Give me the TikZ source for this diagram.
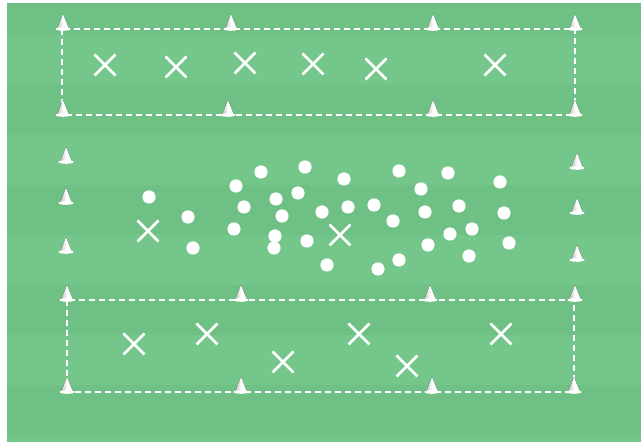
\documentclass[tikz,border=0pt]{standalone}
\begin{document}
\begin{tikzpicture}[x=1pt,y=-1pt,
  cone/.pic={
    \fill[left color=black!25, right color=white, middle color=white] (-6,0) -- (0,-15) -- (6,0) -- cycle;
    \fill[white] (0,0) ellipse (7.5 and 1.8);
  },
  player/.pic={
    \draw[white, line width=2.6pt] (-10.5,-10.5) -- (10.5,10.5) (-10.5,10.5) -- (10.5,-10.5);
  },
  ball/.pic={\fill[white] (0,0) circle (6.6);},
  zone/.style={white, line width=1.7pt, dash pattern=on 6pt off 4pt}
]
\definecolor{pitchA}{RGB}{116,198,138}
\definecolor{pitchB}{RGB}{111,192,132}
\useasboundingbox (0,0) rectangle (641,443);
\fill[white] (0,0) rectangle (641,443);
\fill[pitchA] (7,3) rectangle (641,442);
\foreach \y in {-15,85,185,285,385}{
  \fill[pitchB] (7,{max(\y,3)}) rectangle (641,{min(\y+50,442)});
}
% zones
\draw[zone] (62,29) rectangle (575,115);
\draw[zone] (67,300) rectangle (574,392);
% cones top zone
\foreach \x in {63,231,433,575} \pic at (\x,29) {cone};
\foreach \x in {63,228,433,575} \pic at (\x,115) {cone};
% cones bottom zone
\foreach \x in {67,241,430,575} \pic at (\x,300) {cone};
\foreach \x in {67,241,432,574} \pic at (\x,392) {cone};
% middle cones
\foreach \y in {162,203,252} \pic at (66,\y) {cone};
\foreach \y in {168,213,260} \pic at (577,\y) {cone};
% players
\foreach \p in {(105,65),(176,67),(245,63),(313,64),(376,69),(495,65),
                (148,231),(340,235),
                (134,344),(207,334),(283,362),(359,334),(407,366),(501,334)}
  \pic at \p {player};
% balls
\foreach \p in {(149,197),(188,217),(193,248),(236,186),(244,207),(234,229),
                (261,172),(276,199),(282,216),(275,236),(274,248),(305,167),
                (298,193),(322,212),(307,241),(327,265),
                (344,179),(348,207),(374,205),(393,221),(399,171),(421,189),
                (425,212),(448,173),(459,206),(450,234),(472,229),(428,245),
                (469,256),(500,182),(504,213),(509,243),(378,269),(399,260)}
  \pic at \p {ball};
\end{tikzpicture}
\end{document}
